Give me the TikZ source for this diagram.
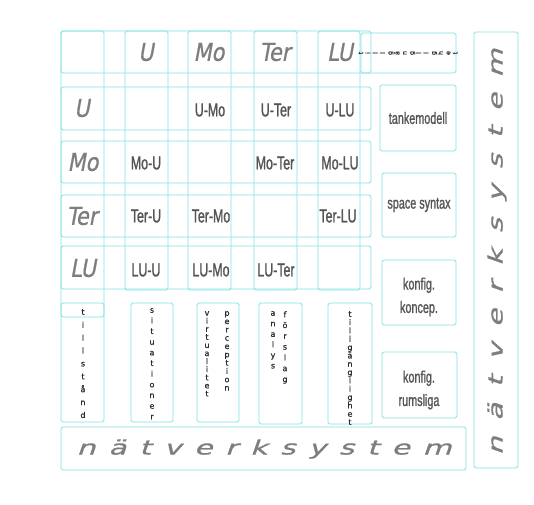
\documentclass[tikz,border=0pt]{standalone}
\usepackage{fontspec}
\setmainfont{Liberation Sans}
\newfontfamily\hdrfont[FakeSlant=0.18, FakeStretch=0.85, FakeBold=0.8]{DejaVu Sans}
\newfontfamily\condfont[FakeStretch=0.66, FakeBold=1.2]{Liberation Sans}
\newfontfamily\widefont[FakeSlant=0.35, FakeStretch=1.5, FakeBold=0.8]{DejaVu Sans}
\newfontfamily\stackfont[FakeBold=1]{DejaVu Sans}
\definecolor{gridcyan}{RGB}{130,225,228}
\definecolor{hdrgray}{RGB}{125,125,125}
\definecolor{cellgray}{RGB}{85,85,85}
\definecolor{stackgray}{RGB}{45,45,45}

\begin{document}
\begin{tikzpicture}[
    x=0.03cm, y=-0.03cm,
    gridline/.style={draw=gridcyan, line width=0.8pt, rounded corners=1.5pt},
    hdr/.style={text=hdrgray, font=\hdrfont\fontsize{21}{21}\selectfont},
    cell/.style={text=cellgray, font=\condfont\fontsize{16}{16}\selectfont},
    note/.style={text=cellgray, font=\condfont\fontsize{14}{20}\selectfont, align=center},
    stack/.style={text=stackgray, font=\stackfont\fontsize{6.8}{#1}\selectfont, align=center, inner sep=0pt, anchor=north},
    wide/.style={text=hdrgray, font=\widefont\fontsize{17}{17}\selectfont, inner sep=0pt}
]
    \useasboundingbox (0,0) rectangle (534,504);

    % Matrix strips
    \draw[gridline] (61,31) rectangle (371,73);
    \draw[gridline] (61,87) rectangle (371,130);
    \draw[gridline] (61,141) rectangle (371,183);
    \draw[gridline] (61,195) rectangle (371,237);
    \draw[gridline] (61,246) rectangle (371,289);
    \draw[gridline] (61,31) rectangle (104,317);
    \draw[gridline] (125,31) rectangle (168,290);
    \draw[gridline] (188,31) rectangle (231,290);
    \draw[gridline] (254,31) rectangle (297,290);
    \draw[gridline] (318,31) rectangle (360,290);

    % Column headers
    \node (hU) [hdr] at (146,52) {U};
    \node (hMo) [hdr] at (209,52) {Mo};
    \node (hTer) [hdr] at (275,52) {Ter};
    \node (hLU) [hdr] at (340,52) {LU};

    % Row headers
    \node (rU) [hdr] at (82,108) {U};
    \node (rMo) [hdr] at (83,162) {Mo};
    \node (rTer) [hdr] at (82,216) {Ter};
    \node (rLU) [hdr] at (83,268) {LU};

    % Cells
    \node (uMo) [cell] at (210,110) {U-Mo};
    \node (uTer) [cell] at (276,110) {U-Ter};
    \node (uLU) [cell] at (340,110) {U-LU};
    \node (moU) [cell] at (146,163) {Mo-U};
    \node (moTer) [cell] at (275,163) {Mo-Ter};
    \node (moLU) [cell] at (340,163) {Mo-LU};
    \node (terU) [cell] at (146,216) {Ter-U};
    \node (terMo) [cell] at (211,216) {Ter-Mo};
    \node (terLU) [cell] at (338,216) {Ter-LU};
    \node (luU) [cell] at (146,270) {LU-U};
    \node (luMo) [cell] at (211,270) {LU-Mo};
    \node (luTer) [cell] at (276,270) {LU-Ter};

    % Top right box
    \draw[gridline] (361,33) rectangle (456,73);
    \node (tillg2) [rotate=90, text=stackgray, font=\stackfont\fontsize{5.5}{6.2}\selectfont, align=center, inner sep=0pt] at (408,53) {t\\i\\l\\l\\g\\ä\\n\\g\\l\\i\\g\\h\\e\\t};

    % Right boxes
    \draw[gridline] (380,85) rectangle (456,151);
    \node (tanke) [note] at (418,118) {tankemodell};
    \draw[gridline] (382,173) rectangle (456,237);
    \node (space) [note] at (419,205) {space syntax};
    \draw[gridline] (382,260) rectangle (456,325);
    \node (koncep) [note] at (419,297) {konfig.\\koncep.};
    \draw[gridline] (382,352) rectangle (457,418);
    \node (rums) [note] at (419,390) {konfig.\\rumsliga};

    % Bottom vertical boxes
    \draw[gridline] (61,303) rectangle (104,422);
    \node (tillstand) [stack=11pt] at (83,309) {t\\i\\l\\l\\s\\t\\å\\n\\d};
    \draw[gridline] (131,303) rectangle (173,422);
    \node (situ) [stack=9.1pt] at (152,308) {s\\i\\t\\u\\a\\t\\i\\o\\n\\e\\r};
    \draw[gridline] (197,303) rectangle (239,422);
    \node (virt) [stack=6.9pt] at (207,311) {v\\i\\r\\t\\u\\a\\l\\i\\t\\e\\t};
    \node (perc) [stack=7.1pt] at (227,311) {p\\e\\r\\c\\e\\p\\t\\i\\o\\n};
    \draw[gridline] (259,303) rectangle (302,424);
    \node (analys) [stack=9pt] at (273,311) {a\\n\\a\\l\\y\\s};
    \node (forslag) [stack=9.2pt] at (285,311) {f\\ö\\r\\s\\l\\a\\g};
    \draw[gridline] (328,303) rectangle (372,424);
    \node (tillg) [stack=7.1pt] at (350,311) {t\\i\\l\\l\\g\\ä\\n\\g\\l\\i\\g\\h\\e\\t};

    % Network system
    \draw[gridline] (61,427) rectangle (466,470);
    \node (natB) [wide] at (264,449) {\makebox[11.25cm][s]{n ä t v e r k s y s t e m}};
    \draw[gridline] (474,32) rectangle (518,468);
    \node (natR) [wide, rotate=90] at (497,252) {\makebox[12.2cm][s]{n ä t v e r k s y s t e m}};

\end{tikzpicture}
\end{document}
